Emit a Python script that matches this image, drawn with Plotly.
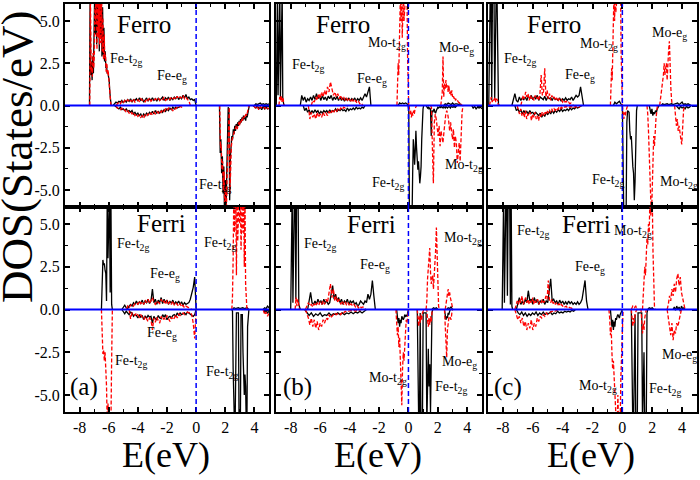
import plotly.graph_objects as go

# ---------------- axis ticks ----------------
E_RANGE = [-9, 5]
DOS_RANGE = [-6, 6]
E_TICKS = [-8, -6, -4, -2, 0, 2, 4]
E_TICK_TEXT = ["-8", "-6", "-4", "-2", "0", "2", "4"]
E_MINOR = [-7, -5, -3, -1, 1, 3]
DOS_TICKS = [-5, -2.5, 0, 2.5, 5]
DOS_TICK_TEXT = ["-5.0", "-2.5", "0.0", "2.5", "5.0"]
DOS_MINOR = [-3.75, -1.25, 1.25, 3.75]
FERMI = 0.0

# ---------------- DOS curves: segments of (E_start, E_step, [DOS values]) ----------------
# (a) Ferro
A_FERRO_BLK_UP = [(-7.32, 0.045, [0, 6.8, 1.8, 2.6, 1.5, 2.9, 1.9, 3.4, 6.8, 4.2, 6.8, 3.6, 6.8, 4.5, 6.8, 3.2, 6.8, 4.0, 6.8, 2.9, 5.8, 3.0, 4.6, 2.6, 3.2, 2.2, 2.4, 1.9, 2.0, 1.7, 1.5, 0.8, 0.2, 0]),
                  (-5.7, 0.1, [0, 0.1, 0.2, 0.15, 0.25, 0.2, 0.3, 0.15, 0.3, 0.2, 0.35, 0.25, 0.4, 0.2, 0.35, 0.3, 0.4, 0.25, 0.45, 0.3, 0.4, 0.2, 0.35, 0.45, 0.25, 0.4, 0.3, 0.45, 0.3, 0.4, 0.25, 0.45, 0.3, 0.4, 0.5, 0.3, 0.45, 0.35, 0.5, 0.3, 0.45, 0.35, 0.5, 0.4, 0.55, 0.35, 0.5, 0.4, 0.6, 0.45, 0.65, 0.4, 0.5, 0.35, 0.4, 0.3, 0.35, 0]),
                  (4.0, 0.1, [0, 0.1, 0.05, 0.1, 0.15, 0.05, 0.1, 0.05, 0.1, 0.05, 0.1])]
A_FERRO_BLK_DN = [(-5.6, 0.1, [0, -0.1, -0.15, -0.2, -0.1, -0.25, -0.2, -0.3, -0.2, -0.35, -0.3, -0.4, -0.3, -0.5, -0.4, -0.55, -0.45, -0.6, -0.5, -0.7, -0.5, -0.6, -0.45, -0.55, -0.4, -0.5, -0.35, -0.5, -0.3, -0.45, -0.35, -0.45, -0.3, -0.4, -0.25, -0.35, -0.2, -0.3, -0.15, -0.25, -0.1, -0.2, -0.1, -0.15, -0.1, -0.05, 0]),
                  (1.6, 0.05, [0, -2.8, -2.0, -4.0, -3.0, -5.2, -3.6, -6.8, -4.4, -6.8, -4.0, -2.2, -0.1, -0.2, -5.6, -3.0, -2.6, -1.8, -2.0, -1.4, -1.7, -1.2, -1.5, -1.1, -1.3, -1.0, -1.2, -0.9, -1.1, -0.8, -1.0, -0.7, -0.9, -0.6, -0.8, -0.7, -0.9, -0.5, -0.7, -0.4, -0.3, 0]),
                  (3.9, 0.1, [0, -0.1, -0.15, 0.0, -0.2, -0.1, -0.25, -0.05, -0.2, -0.1, -0.2, -0.15])]
A_FERRO_RED_UP = [(-7.3, 0.045, [0, 6.8, 2.0, 2.3, 1.7, 3.1, 2.2, 3.0, 6.8, 4.8, 6.8, 3.3, 6.8, 4.0, 6.8, 3.6, 6.8, 3.7, 6.8, 3.2, 5.2, 2.7, 4.2, 2.8, 3.0, 2.0, 2.5, 1.8, 2.1, 1.5, 1.3, 0.6, 0.1, 0]),
                  (-5.5, 0.1, [0, 0.1, 0.2, 0.1, 0.25, 0.15, 0.3, 0.2, 0.35, 0.2, 0.3, 0.25, 0.4, 0.2, 0.3, 0.35, 0.25, 0.4, 0.3, 0.35, 0.2, 0.4, 0.3, 0.45, 0.25, 0.35, 0.3, 0.4, 0.35, 0.45, 0.3, 0.4, 0.35, 0.5, 0.3, 0.4, 0.45, 0.35, 0.5, 0.4, 0.45, 0.35, 0.55, 0.4, 0.5, 0.45, 0.6, 0.4, 0.5, 0.35, 0.3, 0])]
A_FERRO_RED_DN = [(-5.5, 0.1, [0, -0.15, -0.2, -0.25, -0.15, -0.3, -0.25, -0.4, -0.3, -0.45, -0.35, -0.5, -0.4, -0.6, -0.5, -0.65, -0.55, -0.7, -0.6, -0.75, -0.55, -0.65, -0.5, -0.6, -0.45, -0.55, -0.4, -0.5, -0.35, -0.45, -0.3, -0.4, -0.25, -0.35, -0.2, -0.3, -0.15, -0.25, -0.2, -0.3, -0.15, -0.2, -0.1, -0.15, -0.05, -0.1, 0]),
                  (1.62, 0.05, [0, -2.5, -2.3, -3.8, -3.3, -5.0, -3.9, -6.5, -4.8, -6.8, -4.3, -2.5, -0.3, -0.1, -5.2, -3.3, -2.4, -2.0, -1.8, -1.6, -1.5, -1.4, -1.3, -1.2, -1.4, -1.1, -1.0, -1.2, -0.9, -1.0, -0.8, -0.9, -0.7, -0.8, -0.6, -0.7, -0.5, -0.6, -0.4, -0.2, 0]),
                  (3.9, 0.1, [0, -0.05, -0.2, -0.1, -0.25, -0.05, -0.15, -0.2, -0.1, -0.25, -0.15, -0.2])]

# (a) Ferri
A_FERRI_BLK_UP = [(-6.5, 0.05, [0, 2.4, 2.9, 2.6, 2.7, 2.3, 2.1, 0.5, 6.8, 3.0, 6.8, 6.8, 1.0, 6.8, 0.3, 0]),
                  (-5.1, 0.1, [0, 0.1, 0.25, 0.1, 0.05, 0.2, 0.3, 0.2, 0.4, 0.3, 0.5, 0.3, 0.45, 0.35, 0.55, 0.3, 0.5, 0.4, 0.6, 0.35, 0.5, 1.2, 0.4, 0.6, 0.3, 0.55, 0.4, 0.7, 0.35, 0.6, 0.4, 0.55, 0.3, 0.5, 0.35, 0.55, 0.3, 0.45, 0.35, 0.5, 0.3, 0.45, 0.25, 0.4, 0.3, 0.35, 0.4, 0.6, 0.9, 1.3, 1.9, 0]),
                  (2.5, 0.1, [0, 0.1, 0.05, 0.1, 0.1, 0.05, 0.1, 0.1, 0.05, 0.1, 0.1, 0]),
                  (4.6, 0.1, [0, 0.1, 0.05, 0.2, 0.1])]
A_FERRI_BLK_DN = [(-5.1, 0.1, [0, -0.15, -0.25, -0.1, -0.2, -0.3, -0.15, -0.2, -0.4, -0.3, -0.35, -0.5, -0.3, -0.45, -0.35, -0.6, -0.4, -0.5, -0.35, -0.45, -0.4, -0.8, -0.4, -0.55, -0.6, -0.35, -0.5, -0.55, -0.3, -0.45, -0.3, -0.6, -0.45, -0.4, -0.5, -0.35, -0.3, -0.4, -0.2, -0.35, -0.2, -0.3, -0.25, -0.2, -0.3, -0.15, -0.2, -0.3, -0.35, -0.4, -0.3, 0]),
                  (2.45, 0.045, [0, -0.1, -3.5, -6.8, -6.8, -6.8, -0.2, -0.2, -0.2, -0.2, -0.2, -6.8, -6.8, -6.8, -0.3, -0.3, -0.3, -2.5, -3.6, -5.0, -3.8, -4.5, -6.8, -6.8, -1.0, -0.1, 0]),
                  (4.6, 0.1, [0, -0.15, -0.05, -0.2, -0.1])]
A_FERRI_RED_UP = [(-4.8, 0.1, [0, 0.2, 0.1, 0.25, 0.3, 0.2, 0.35, 0.4, 0.3, 0.5, 0.35, 0.45, 0.3, 0.55, 0.4, 0.6, 0.35, 0.5, 0.7, 0.4, 0.3, 0.5, 0.45, 0.35, 0.6, 0.4, 0.5, 0.3, 0.55, 0.35, 0.45, 0.3, 0.5, 0.25, 0.4, 0.3, 0.2, 0.35, 0.15, 0.25, 0.1, 0.2, 0.15, 0.1, 0.05, 0]),
                  (2.45, 0.045, [0, 0.8, 3.0, 6.8, 4.5, 6.8, 6.8, 2.0, 6.8, 4.0, 6.8, 6.8, 5.0, 6.8, 3.5, 6.8, 6.8, 4.5, 6.8, 2.5, 6.8, 1.5, 0.2, 0])]
A_FERRI_RED_DN = [(-6.5, 0.05, [0, -1.8, -2.6, -2.4, -3.0, -2.5, -3.2, -4.5, -6.8, -5.5, -6.8, -6.8, -6.0, -6.8, -3.0, 0]),
                  (-4.6, 0.1, [0, -0.55, -0.2, -0.3, -0.35, -0.2, -0.3, -0.45, -0.3, -0.5, -0.6, -0.4, -0.55, -0.7, -0.5, -0.6, -1.2, -0.5, -0.75, -0.45, -0.65, -0.8, -0.4, -0.6, -0.5, -0.6, -0.35, -0.55, -0.7, -0.45, -0.6, -0.5, -0.3, -0.5, -0.25, -0.35, -0.3, -0.2, -0.3, -0.2, -0.15, -0.2, -0.15, -0.3, -0.8, -1.7, 0]),
                  (4.6, 0.1, [0, -0.3, -0.15, -0.4, -0.2])]

# (b) Ferro
B_FERRO_BLK_UP = [(-8.98, 0.04, [0, 6.8, 6.8, 0.6, 6.8, 6.8, 6.8, 0.5, 6.8, 6.8, 6.8, 0.4, 0.2, 0]),
                  (-7.35, 0.1, [0, 0.6, 0.3, 0.5, 0.2, 0.4, 0.3, 0.5, 0.3, 0.6, 0.35, 0.7, 0.4, 0.55, 0.3, 0.6, 0.35, 0.5, 0.3, 0.55, 0.4, 0.6, 0.3, 0.5, 0.35, 0.55, 0.3, 0.5, 0.3, 0.45, 0.25, 0.4, 0.3, 0.45, 0.25, 0.4, 0.3, 0.45, 0.25, 0.4, 0.3, 0.45, 0.3, 0.5, 0.7, 0.5, 0.9, 1.1, 0]),
                  (-0.7, 0.1, [0, 0.15, 0.1, 0.15, 0.1, 0.15, 0.1, 0]),
                  (2.4, 0.1, [0, 0.1, 0.05, 0.15, 0.1, 0.05, 0.15, 0.05, 0.1, 0.1, 0.05, 0.1, 0])]
B_FERRO_BLK_DN = [(-7.15, 0.1, [0, -0.3, -0.15, -0.4, -0.25, -0.5, -0.3, -0.45, -0.25, -0.4, -0.3, -0.5, -0.35, -0.45, -0.3, -0.4, -0.3, -0.45, -0.25, -0.4, -0.3, -0.35, -0.2, -0.35, -0.25, -0.3, -0.2, -0.3, -0.25, -0.35, -0.15, -0.3, -0.2, -0.25, -0.15, -0.25, -0.1, -0.2, -0.15, -0.2, -0.1, -0.15, 0]),
                  (-0.02, 0.044, [0, -0.3, -6.8, -6.8, -6.8, -6.8, -6.8, -4.0, -2.0, -2.6, -3.5, -2.7, -1.5, -2.5, -3.2, -3.8, -3.3, -4.0, -4.6, -4.2, -3.6, -2.0, -0.8, -0.2, 0]),
                  (1.2, 0.05, [0, -0.1, -0.15, -0.1, -0.2, -0.15, -0.2, -1.8, -0.3, -0.4, -0.3, -0.2, -0.4, -0.45, -0.3, -0.2, -0.1, -0.15, -0.1, -0.05, -0.15, -0.05, -0.1, -0.15, -0.05, -0.1, -0.15, -0.05, -0.1, -0.15, -0.1, -0.05, -0.1, -0.15, -0.05, -0.1, -0.1, -0.05, -0.1, -0.05, -0.1, -0.05, 0]),
                  (4.3, 0.1, [0, -0.15, -0.05, -0.2, -0.1, -0.15, -0.1, -0.2])]
B_FERRO_RED_UP = [(-8.8, 0.05, [0, 0.5, 0.3, 0.6, 0.2, 0.5, 0.3, 0]),
                  (-6.6, 0.1, [0, 0.3, 0.2, 0.5, 0.3, 0.7, 0.4, 0.8, 0.5, 0.9, 0.6, 1.1, 0.8, 1.4, 1.0, 0.6, 0.8, 0.5, 0.7, 0.4, 0.6, 0.35, 0.5, 0.3, 0.45, 0.25, 0.4, 0.2, 0.35, 0.2, 0.3, 0.15, 0.25, 0.1, 0.15, 0]),
                  (-0.78, 0.04, [0, 1.0, 2.5, 1.8, 3.5, 4.5, 6.8, 5.0, 6.8, 4.0, 6.8, 6.8, 5.0, 6.8, 6.8, 6.8, 6.8, 6.8, 3.0, 0.5, 0]),
                  (2.2, 0.05, [0, 0.5, 0.8, 2.9, 0.5, 1.3, 1.0, 1.5, 1.0, 1.2, 0.8, 1.2, 0.7, 0.9, 0.6, 0.9, 0.5, 0.6, 0.4, 0.5, 0.3, 0.4, 0.3, 0.25, 0.2, 0.15, 0.2, 0.1, 0.05, 0])]
B_FERRO_RED_DN = [(-6.8, 0.1, [0, -0.8, -0.4, -0.7, -0.5, -0.8, -0.4, -0.7, -0.5, -0.7, -0.4, -0.6, -0.45, -0.6, -0.35, -0.5, -0.3, -0.45, -0.25, -0.4, -0.2, -0.3, -0.15, -0.25, -0.1, -0.15, -0.05, 0]),
                  (0.05, 0.05, [0, -0.5, -0.3, -0.7, -0.4, -0.6, -0.3, -0.5, -0.2, -0.1, 0]),
                  (1.5, 0.065, [0, -0.1, -2.5, -4.6, -1.0, -0.5, -0.8, -1.2, -1.8, -1.2, -2.4, -1.5, -1.9, -2.2, -1.6, -1.0, -0.5, -0.3, -0.5, -0.9, -1.5, -1.0, -1.6, -2.0, -1.4, -2.5, -1.8, -2.2, -3.4, -2.6, -2.2, -3.3, -1.0, -0.4, 0])]

# (b) Ferri
B_FERRI_BLK_UP = [(-8.0, 0.05, [0, 6.8, 6.8, 0.4, 6.8, 6.8, 6.8, 0.6, 6.8, 6.8, 6.8, 0.3, 0.2, 0]),
                  (-6.85, 0.1, [0, 0.6, 1.0, 0.4, 0.3, 0.5, 0.3, 0.6, 0.4, 0.5, 0.3, 0.6, 0.4, 0.5, 0.3, 0.4, 0.8, 1.4, 0.6, 0.9, 0.5, 0.7, 0.4, 0.6, 0.3, 0.5, 0.4, 0.6, 0.3, 0.5, 0.4, 0.5, 0.3, 0.4, 0.2, 0.3, 0.5, 0.4, 0.3, 0.5, 0.4, 0.9, 0.6, 0.9, 1.7, 0.8, 0]),
                  (1.6, 0.1, [0, 0.1, 0.05, 0.1, 0]),
                  (2.6, 0.1, [0, 0.1, 0.05, 0.15, 0])]
B_FERRI_BLK_DN = [(-7.05, 0.15, [0, -0.2, -0.35, -0.2, -0.4, -0.25, -0.35, -0.2, -0.4, -0.3, -0.35, -0.2, -0.35, -0.25, -0.3, -0.2, -0.3, -0.2, -0.3, -0.2, -0.25, -0.15, -0.25, -0.15, -0.2, -0.1, -0.2, -0.1, 0]),
                  (-0.8, 0.05, [0, -0.4, -0.8, -0.5, -1.0, -0.6, -0.8, -0.4, -0.5, -0.6, -0.5, -0.3, -0.4, -0.35, -0.4, -0.1, 0]),
                  (0.6, 0.05, [0, -6.8, -6.8, -6.8, -0.2, -6.8, -6.8, -6.8, -0.2, -0.2, -0.2, -0.2, -0.2, -6.8, -3.0, -2.3, -4.5, -3.2, -6.0, -1.0, -0.2, 0]),
                  (2.45, 0.05, [0, -0.3, -0.6, -0.4, -0.5, -0.2, -0.3, -0.1, 0])]
B_FERRI_RED_UP = [(-7.7, 0.06, [0, 0.7, 0.2, 0.6, 0.3, 0]),
                  (-7.0, 0.1, [0, 0.2, 0.4, 0.2, 0.3, 0.15, 0.35, 0.2, 0.4, 0.25, 0.45, 0.3, 0.5, 0.3, 0.6, 0.4, 0.9, 1.5, 0.7, 1.2, 0.5, 0.8, 0.4, 0.6, 0.3, 0.5, 0.3, 0.45, 0.25, 0.4, 0.2, 0.35, 0.2, 0.3, 0.15, 0.25, 0.1, 0.2, 0.1, 0.15, 0.1, 0]),
                  (1.2, 0.05, [0, 0.5, 1.8, 2.5, 3.0, 3.6, 2.2, 1.5, 1.8, 2.0, 1.2, 1.8, 2.5, 3.5, 4.8, 3.0, 1.0, 0.2, 0]),
                  (2.5, 0.05, [0, 0.3, 0.6, 0.9, 1.2, 0.8, 1.0, 0.7, 0.4, 0.2, 0.1, 0])]
B_FERRI_RED_DN = [(-7.0, 0.1, [0, -0.2, -0.5, -0.9, -0.5, -1.0, -0.6, -1.1, -0.7, -1.2, -0.8, -1.0, -0.6, -0.8, -0.5, -0.6, -0.3, -0.5, -0.4, -0.3, -0.2, -0.3, -0.25, -0.2, -0.3, -0.15, -0.2, -0.1, -0.15, -0.1, -0.1, -0.05, -0.1, -0.05, -0.1, -0.05, -0.1, -0.05, 0]),
                  (-0.85, 0.05, [0, -0.6, -1.5, -1.0, -2.2, -1.6, -3.0, -4.0, -5.6, -3.5, -2.5, -3.0, -2.0, -1.4, -0.6, -0.8, -0.2, 0]),
                  (0.6, 0.05, [0, -0.5, -1.0, -0.4, -0.8, -0.3, -0.6, -0.2, 0, 0, 0, 0, 0, 0, -0.6, -1.0, -0.5, -0.9, -0.4, -0.7, -0.2, 0]),
                  (2.45, 0.05, [0, -0.8, -2.0, -2.8, -1.2, -0.6, -0.5, -0.4, -0.5, -0.6, -0.2, 0])]

# (c) Ferro
C_FERRO_BLK_UP = [(-8.95, 0.05, [0, 6.8, 6.8, 6.8, 0.3, 6.8, 6.8, 6.8, 0.4, 6.8, 6.8, 6.8, 0.2, 0.1, 0]),
                  (-7.4, 0.1, [0, 0.3, 0.7, 0.3, 0.2, 0.5, 0.3, 0.45, 0.35, 0.5, 0.3, 0.55, 0.4, 0.6, 0.35, 0.5, 0.4, 0.6, 0.3, 0.5, 0.45, 0.35, 0.55, 0.3, 0.5, 0.4, 0.45, 0.3, 0.5, 0.35, 0.4, 0.3, 0.45, 0.25, 0.4, 0.3, 0.45, 0.3, 0.4, 0.35, 0.5, 0.3, 0.45, 0.6, 0.5, 0.6, 1.1, 0.5, 0]),
                  (-0.6, 0.1, [0, 0.2, 0.1, 0.2, 0.25, 0.1, 0]),
                  (2.6, 0.1, [0, 0.1, 0.05, 0.1, 0.1, 0.05, 0.1, 0.1, 0.05, 0.1, 0.1, 0.15, 0.05, 0.1, 0.2, 0.05, 0.1, 0.05, 0.1, 0.05, 0])]
C_FERRO_BLK_DN = [(-7.2, 0.1, [0, -0.3, -0.2, -0.4, -0.25, -0.5, -0.3, -0.45, -0.35, -0.5, -0.3, -0.45, -0.4, -0.55, -0.4, -0.5, -0.6, -0.45, -0.7, -0.5, -0.65, -0.4, -0.55, -0.35, -0.5, -0.3, -0.45, -0.3, -0.4, -0.25, -0.35, -0.2, -0.35, -0.25, -0.3, -0.2, -0.3, -0.15, -0.25, -0.15, -0.2, -0.1, -0.15, -0.1, -0.05, 0]),
                  (0.0, 0.05, [0, -6.8, -6.8, -6.8, -6.8, -6.8, -1.0, -0.3, -0.35, -0.4, -1.5, -2.0, -1.8, -3.0, -3.6, -4.0, -5.6, -4.5, -2.0, -0.3, 0]),
                  (1.8, 0.06, [0, -0.3, -0.5, -0.2, -0.6, -0.4, -0.5, -0.3, -0.4, -0.2, -0.1, 0]),
                  (3.6, 0.1, [0, -0.1, -0.2, -0.05, -0.15, -0.1, -0.2, -0.05, -0.15, -0.1, 0])]
C_FERRO_RED_UP = [(-8.9, 0.06, [0, 0.3, 0.5, 0.2, 0.4, 0.3, 0.5, 0.2, 0.4, 0.3, 0]),
                  (-6.8, 0.08, [0, 0.3, 0.6, 0.4, 0.8, 0.5, 0.7, 0.3, 0.6, 0.4, 0.5, 0.3, 0.6, 0.4, 0.5, 0.3, 0.7, 1.8, 0.6, 0.8, 2.2, 0.5, 0.9, 0.4, 0.7, 0.3, 0.6, 0.4, 0.5, 0.3, 0.45, 0.25, 0.4, 0.3, 0.35, 0.2, 0.3, 0.2, 0.25, 0.15, 0.2, 0.1, 0.15, 0.1, 0]),
                  (-0.8, 0.04, [0, 0.8, 2.2, 1.5, 3.5, 4.5, 6.8, 5.0, 6.8, 5.5, 6.8, 6.8, 6.8, 6.8, 6.8, 6.8, 6.8, 6.8, 3.0, 0.5, 0]),
                  (2.5, 0.05, [0, 0.3, 0.6, 1.0, 1.4, 1.8, 2.5, 1.8, 2.2, 2.5, 1.5, 2.8, 3.3, 3.8, 2.0, 1.0, 0.3, 0])]
C_FERRO_RED_DN = [(-7.05, 0.08, [0, -0.3, -0.5, -0.2, -0.6, -0.4, -0.7, -0.3, -0.8, -0.5, -0.6, -0.4, -0.9, -0.5, -0.7, -0.4, -0.8, -0.6, -0.9, -0.5, -0.7, -0.4, -0.6, -0.35, -0.5, -0.3, -0.45, -0.25, -0.4, -0.2, -0.35, -0.2, -0.3, -0.15, -0.25, -0.1, -0.2, -0.1, -0.15, -0.05, -0.1, -0.05, -0.1, -0.05, -0.1, -0.05, -0.1, -0.05, -0.1, -0.05, -0.1, -0.05, -0.1, 0]),
                  (0.0, 0.05, [0, -0.3, -0.8, -0.4, -0.6, -0.3, -0.2, 0]),
                  (1.65, 0.05, [0, -0.5, -1.5, -3.0, -4.5, -6.0, -6.8, -5.0, -2.5, -1.8, -2.4, -1.2, -0.8, -0.4, 0]),
                  (3.5, 0.06, [0, -0.5, -1.2, -0.8, -1.5, -1.2, -1.8, -2.0, -2.3, -1.2, -0.3, 0])]

# (c) Ferri
C_FERRI_BLK_UP = [(-8.05, 0.05, [0, 6.8, 6.8, 0.4, 6.8, 6.8, 6.8, 0.8, 6.8, 6.8, 6.8, 0.3, 6.8, 0.2, 0]),
                  (-7.1, 0.1, [0, 0.4, 0.7, 0.3, 0.5, 0.3, 0.6, 0.4, 1.1, 0.5, 0.6, 0.3, 0.7, 0.4, 0.6, 0.3, 0.5, 0.4, 0.6, 0.3, 0.5, 0.4, 1.0, 1.8, 0.5, 0.6, 0.4, 0.5, 0.3, 0.55, 0.35, 0.5, 0.3, 0.45, 0.3, 0.5, 0.35, 0.45, 0.3, 0.4, 0.3, 0.45, 0.3, 0.4, 0.6, 1.3, 1.7, 0.5, 0]),
                  (1.7, 0.1, [0, 0.1, 0.05, 0.1, 0]),
                  (3.4, 0.08, [0, 0.15, -0.05, 0.2, 0.0, 0.15, -0.1, 0.2, 0.05, 0.1, 0])]
C_FERRI_BLK_DN = [(-7.1, 0.12, [0, -0.2, -0.3, -0.15, -0.35, -0.2, -0.4, -0.25, -0.35, -0.2, -0.3, -0.15, -0.35, -0.2, -0.3, -0.15, -0.3, -0.2, -0.25, -0.15, -0.3, -0.2, -0.25, -0.1, -0.2, -0.15, -0.2, -0.1, -0.15, -0.1, -0.15, -0.05, -0.1, 0]),
                  (-0.8, 0.05, [0, -0.5, -1.0, -0.6, -1.2, -0.7, -1.0, -0.5, -0.6, -0.4, -0.3, -0.4, -0.5, -0.3, -0.2, -0.1, 0]),
                  (0.6, 0.05, [0, -6.8, -6.8, -6.8, -0.3, -0.3, -6.8, -6.8, -6.8, -0.2, -0.2, -0.2, -0.2, -0.2, -0.2, -6.8, -4.0, -2.5, -6.8, -6.8, -6.8, -0.2, 0])]
C_FERRI_RED_UP = [(-7.2, 0.08, [0, 0.2, 0.5, 0.3, 0.6, 0.4, 0.8, 0.3, 0.5, 0.7, 0.4, 0.6, 0.3, 0.5, 0.4, 0.7, 0.3, 0.5, 0.4, 0.6, 0.3, 0.5, 0.4, 0.6, 0.4, 0.5, 0.8, 0.6, 1.7, 0.5, 0.4, 0.6, 0.35, 0.45, 0.3, 0.4, 0.25, 0.35, 0.2, 0.3, 0.2, 0.25, 0.15, 0.2, 0.1, 0.15, 0.1, 0.1, 0.05, 0]),
                  (0.6, 0.1, [0, 0.2, 0.1, 0.2, 0]),
                  (1.35, 0.05, [0, 0.8, 1.5, 2.5, 2.0, 3.5, 4.2, 3.8, 5.0, 4.5, 6.8, 5.5, 6.8, 6.8, 3.5, 1.5, 0.2, 0]),
                  (3.0, 0.08, [0, 0.3, 0.8, 0.5, 1.2, 0.8, 1.5, 1.0, 1.8, 2.1, 1.4, 1.9, 1.0, 0.6, 0.2, 0])]
C_FERRI_RED_DN = [(-7.2, 0.1, [0, -0.3, -0.6, -0.4, -0.8, -0.5, -1.0, -0.7, -1.2, -0.8, -1.1, -0.6, -1.2, -0.8, -1.0, -0.5, -0.7, -0.4, -0.5, -0.3, -0.4, -0.2, -0.3, -0.2, -0.15, -0.1, -0.15, -0.1, -0.05, 0]),
                  (-0.9, 0.05, [0, -0.5, -1.5, -1.0, -2.5, -3.5, -3.0, -4.5, -5.5, -6.8, -6.8, -6.8, -5.0, -6.8, -6.8, -6.8, -4.0, -2.0, -0.5, 0]),
                  (0.6, 0.05, [0, -0.4, -1.0, -0.5, -0.8, -0.3, -0.1, 0, 0, 0, 0, 0, 0, 0, -0.7, -1.4, -0.8, -1.2, -0.5, -0.2, 0]),
                  (3.0, 0.08, [0, -0.4, -1.0, -1.5, -0.8, -1.8, -1.2, -1.4, -0.8, -1.0, -0.5, -0.3, 0])]

# ---------------- labels ----------------
T2G = "t<sub>2g</sub>"
EG = "e<sub>g</sub>"
# (text, E, DOS, font size, xanchor) per panel
A_FERRO_LABELS = [("Ferro", -3.58, 4.76, 25, "center"), ("Fe-" + T2G, -6.05, 2.69, 14, "left"),
                  ("Fe-" + EG, -2.82, 1.74, 14, "left"), ("Fe-" + T2G, 0.06, -4.70, 14, "left")]
A_FERRI_LABELS = [("Ferri", -2.41, 5.05, 25, "center"), ("Fe-" + T2G, -5.57, 3.83, 14, "left"),
                  ("Fe-" + T2G, 0.40, 3.89, 14, "left"), ("Fe-" + EG, -3.30, 2.02, 14, "left"),
                  ("Fe-" + EG, -3.51, -1.43, 14, "left"), ("Fe-" + T2G, -5.71, -3.02, 14, "left"),
                  ("Fe-" + T2G, 0.54, -3.66, 14, "left"), ("(a)", -7.70, -4.54, 25, "center")]
B_FERRO_LABELS = [("Ferro", -4.45, 4.76, 25, "center"), ("Fe-" + T2G, -8.05, 2.39, 14, "left"),
                  ("Fe-" + EG, -3.63, 1.51, 14, "left"), ("Mo-" + T2G, -2.88, 3.69, 14, "left"),
                  ("Mo-" + EG, 1.94, 3.34, 14, "left"), ("Mo-" + T2G, 2.35, -3.52, 14, "left"),
                  ("Fe-" + T2G, -2.61, -4.64, 14, "left")]
B_FERRI_LABELS = [("Ferri", -2.48, 5.0, 25, "center"), ("Fe-" + T2G, -7.23, 3.78, 14, "left"),
                  ("Fe-" + EG, -3.43, 2.55, 14, "left"), ("Mo-" + T2G, 2.28, 4.13, 14, "left"),
                  ("Mo-" + EG, 2.15, -3.13, 14, "left"), ("Fe-" + T2G, 1.67, -4.54, 14, "left"),
                  ("Mo-" + T2G, -2.82, -4.01, 14, "left"), ("(b)", -7.57, -4.54, 25, "center")]
C_FERRO_LABELS = [("Ferro", -4.58, 4.76, 25, "center"), ("Fe-" + T2G, -8.06, 2.69, 14, "left"),
                  ("Fe-" + EG, -3.98, 1.80, 14, "left"), ("Mo-" + T2G, -2.97, 3.58, 14, "left"),
                  ("Mo-" + EG, 1.85, 4.23, 14, "left"), ("Fe-" + T2G, -2.17, -4.46, 14, "left"),
                  ("Mo-" + T2G, 2.39, -4.58, 14, "left")]
C_FERRI_LABELS = [("Ferri", -2.43, 5.0, 25, "center"), ("Mo-" + T2G, -0.69, 4.59, 14, "left"),
                  ("Fe-" + T2G, -7.19, 4.54, 14, "left"), ("Fe-" + EG, -3.31, 2.43, 14, "left"),
                  ("Mo-" + EG, 2.52, -2.72, 14, "left"), ("Mo-" + T2G, -3.04, -4.48, 14, "left"),
                  ("Fe-" + T2G, 1.65, -4.71, 14, "left"), ("(c)", -7.66, -4.54, 25, "center")]

PANELS = [  # (axis suffix, column, row, curves, labels)
    ("", 0, 0, (A_FERRO_BLK_UP, A_FERRO_BLK_DN, A_FERRO_RED_UP, A_FERRO_RED_DN), A_FERRO_LABELS),
    ("2", 1, 0, (B_FERRO_BLK_UP, B_FERRO_BLK_DN, B_FERRO_RED_UP, B_FERRO_RED_DN), B_FERRO_LABELS),
    ("3", 2, 0, (C_FERRO_BLK_UP, C_FERRO_BLK_DN, C_FERRO_RED_UP, C_FERRO_RED_DN), C_FERRO_LABELS),
    ("4", 0, 1, (A_FERRI_BLK_UP, A_FERRI_BLK_DN, A_FERRI_RED_UP, A_FERRI_RED_DN), A_FERRI_LABELS),
    ("5", 1, 1, (B_FERRI_BLK_UP, B_FERRI_BLK_DN, B_FERRI_RED_UP, B_FERRI_RED_DN), B_FERRI_LABELS),
    ("6", 2, 1, (C_FERRI_BLK_UP, C_FERRI_BLK_DN, C_FERRI_RED_UP, C_FERRI_RED_DN), C_FERRI_LABELS),
]

# ---------------- layout geometry (pixels of a 700x480 canvas) ----------------
W, H = 700, 480
COL_PX = [(65, 269), (276, 482), (488, 697)]
ROW_PX = [(4, 207), (207, 412)]
SERIF = "Liberation Serif"


def build(segments):
    xs, ys = [], []
    for e0, step, vals in segments:
        if xs:
            xs.append(None)
            ys.append(None)
        for i, v in enumerate(vals):
            xs.append(round(e0 + i * step, 4))
            ys.append(v)
    return xs, ys


fig = go.Figure()
layout = dict(width=W, height=H, margin=dict(l=0, r=0, t=0, b=0),
              paper_bgcolor="white", plot_bgcolor="white", showlegend=False,
              font=dict(family=SERIF, color="black"))
annotations = []
shapes = []

for suf, col, row, curves, labels in PANELS:
    xa, ya = "x" + suf, "y" + suf
    styles = [("black", "solid"), ("black", "solid"), ("red", "4px,2px"), ("red", "4px,2px")]
    for segs, (colr, dash) in zip(curves, styles):
        xs, ys = build(segs)
        fig.add_trace(go.Scatter(x=xs, y=ys, mode="lines", xaxis=xa, yaxis=ya,
                                 line=dict(color=colr, width=1.3, dash=dash),
                                 connectgaps=False, hoverinfo="skip"))
    x0, x1 = COL_PX[col]
    y0, y1 = ROW_PX[row]
    bottom = row == 1
    left = col == 0
    layout["xaxis" + suf] = dict(
        domain=[x0 / W, x1 / W], anchor=ya, range=E_RANGE, showgrid=False, zeroline=False,
        showline=True, linecolor="black", linewidth=2, mirror="ticks",
        ticks="inside", ticklen=5, tickwidth=1.5, tickcolor="black",
        tickmode="array", tickvals=E_TICKS, ticktext=E_TICK_TEXT, showticklabels=bottom,
        tickfont=dict(family=SERIF, size=16, color="black"),
        minor=dict(ticks="inside", ticklen=3, tickwidth=1.2, tickcolor="black",
                   tickmode="array", tickvals=E_MINOR, showgrid=False))
    layout["yaxis" + suf] = dict(
        domain=[(H - y1) / H, (H - y0) / H], anchor=xa, range=DOS_RANGE, showgrid=False, zeroline=False,
        showline=True, linecolor="black", linewidth=2, mirror="ticks",
        ticks="inside", ticklen=5, tickwidth=1.5, tickcolor="black",
        tickmode="array", tickvals=DOS_TICKS, ticktext=DOS_TICK_TEXT, showticklabels=left,
        tickfont=dict(family=SERIF, size=16, color="black"),
        minor=dict(ticks="inside", ticklen=3, tickwidth=1.2, tickcolor="black",
                   tickmode="array", tickvals=DOS_MINOR, showgrid=False))
    # zero DOS line and Fermi level
    shapes.append(dict(type="line", xref=xa + " domain", x0=0, x1=1, yref=ya, y0=0, y1=0,
                       line=dict(color="#0000ff", width=1.8), layer="above"))
    shapes.append(dict(type="line", xref=xa, x0=FERMI, x1=FERMI, yref=ya + " domain", y0=0, y1=1,
                       line=dict(color="#0000ff", width=1.5, dash="5px,3px"), layer="above"))
    for text, ex, dy, size, anc in labels:
        annotations.append(dict(text=text, x=ex, y=dy, xref=xa, yref=ya, showarrow=False,
                                xanchor=anc, yanchor="middle",
                                font=dict(family=SERIF, size=size, color="black")))

# axis titles
for col in range(3):
    x0, x1 = COL_PX[col]
    annotations.append(dict(text="E(eV)", x=(x0 + x1) / 2 / W - 0.002, y=(H - 455) / H, xref="paper", yref="paper",
                            showarrow=False, xanchor="center", yanchor="middle",
                            font=dict(family=SERIF, size=36, color="black")))
annotations.append(dict(text="DOS(States/eV)", x=17 / W, y=(H - 157) / H, xref="paper", yref="paper",
                        showarrow=False, textangle=-90, xanchor="center", yanchor="middle",
                        font=dict(family=SERIF, size=45, color="black")))

layout["annotations"] = annotations
layout["shapes"] = shapes
fig.update_layout(**layout)
# remove the browser's default 8px page margin so the 700x480 figure fills the window
fig.write_html("out.html", config={"displayModeBar": False},
               post_script="document.body.style.margin='0';")
